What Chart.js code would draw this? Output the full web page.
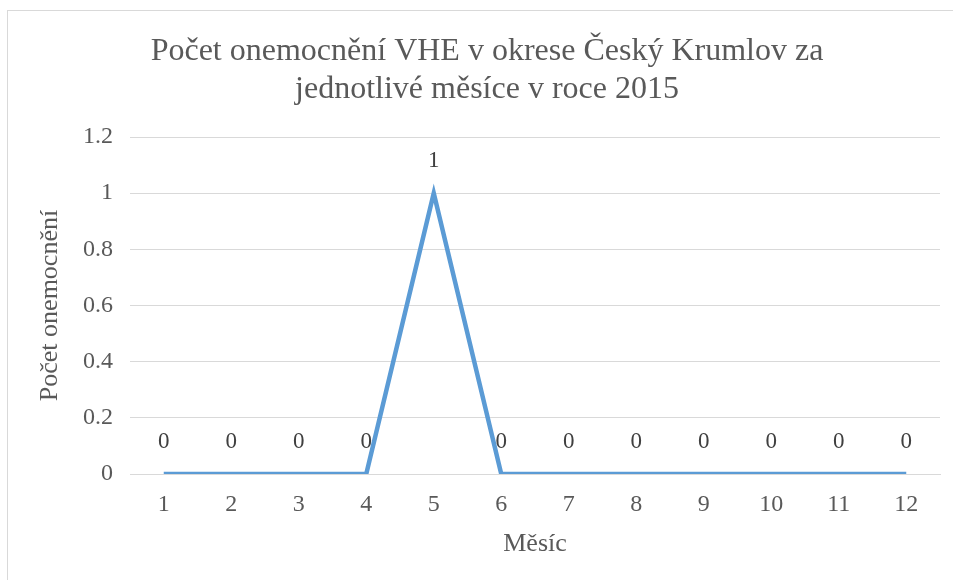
<!DOCTYPE html>
<html>
<head>
<meta charset="utf-8">
<script src="https://cdn.jsdelivr.net/npm/chart.js@4"></script>
<style>
  html, body { margin: 0; padding: 0; background: #fff; overflow: hidden; }
  #frame { position: absolute; left: 7px; top: 10px; width: 960px; height: 580px; border: 1px solid #d9d9d9; box-sizing: border-box; }
  #wrap { position: absolute; left: 7px; top: 10px; width: 960px; height: 570px; }
</style>
</head>
<body>
<div id="frame"></div>
<div id="wrap"><canvas id="myChart" width="960" height="570"></canvas></div>
<script>
const chart_el = document.getElementById('myChart');

const months = ['1', '2', '3', '4', '5', '6', '7', '8', '9', '10', '11', '12'];
const cases = [0, 0, 0, 0, 1, 0, 0, 0, 0, 0, 0, 0];
const titleLines = ['Počet onemocnění VHE v okrese Český Krumlov za', 'jednotlivé měsíce v roce 2015'];

const serif = "'Liberation Serif', 'Times New Roman', serif";
const grey = '#595959';

Chart.defaults.font.family = serif;

// chart title, drawn by hand (two centred serif lines)
const serifTitle = {
    id: 'serifTitle',
    afterDraw(chart) {
        const ctx = chart.ctx;
        ctx.save();
        ctx.font = '32px ' + serif;
        ctx.fillStyle = grey;
        ctx.textAlign = 'center';
        ctx.textBaseline = 'middle';
        const w = ctx.measureText(titleLines[0]).width;
        const sx = Math.min(1, 673 / w);
        ctx.translate(chart.width / 2, 0);
        ctx.scale(sx, 1);
        ctx.fillText(titleLines[0], 0, 42);
        ctx.fillText(titleLines[1], 0, 80);
        ctx.restore();
    }
};

// value labels above each point, like Excel data labels
const valueLabels = {
    id: 'valueLabels',
    afterDatasetsDraw(chart) {
        const ctx = chart.ctx;
        const meta = chart.getDatasetMeta(0);
        ctx.save();
        ctx.font = '23px ' + serif;
        ctx.fillStyle = '#404040';
        ctx.textAlign = 'center';
        ctx.textBaseline = 'middle';
        meta.data.forEach((pt, i) => {
            ctx.fillText(String(cases[i]), pt.x, pt.y - 32);
        });
        ctx.restore();
    }
};

const myChart = new Chart(chart_el, {
    type: 'line',
    data: {
        labels: months,
        datasets: [{
            label: 'Počet onemocnění',
            data: cases,
            borderColor: '#5b9bd5',
            backgroundColor: '#5b9bd5',
            borderWidth: 4.5,
            pointRadius: 0,
            tension: 0
        }]
    },
    options: {
        responsive: false,
        animation: false,
        layout: { padding: { left: 21, right: 27, top: 127, bottom: 16 } },
        plugins: {
            legend: { display: false },
            tooltip: { enabled: false },
            title: { display: false }
        },
        scales: {
            x: {
                offset: true,
                grid: { display: false },
                border: { color: '#d9d9d9' },
                ticks: { color: grey, font: { family: serif, size: 24 }, padding: 8, maxRotation: 0 },
                title: { display: true, text: 'Měsíc', color: grey, font: { family: serif, size: 26 }, padding: { top: 2, bottom: 4 } }
            },
            y: {
                min: 0,
                max: 1.2,
                afterFit: (scale) => { scale.width = 102; },
                grid: { color: '#d9d9d9', drawTicks: false },
                border: { display: false },
                ticks: { stepSize: 0.2, color: grey, font: { family: serif, size: 24 }, padding: 17,
                    callback: v => Math.round(v * 10) / 10 },
                title: { display: true, text: 'Počet onemocnění', color: grey, font: { family: serif, size: 26 }, padding: { top: 7, bottom: 0 } }
            }
        }
    },
    plugins: [valueLabels, serifTitle]
});
</script>
</body>
</html>
